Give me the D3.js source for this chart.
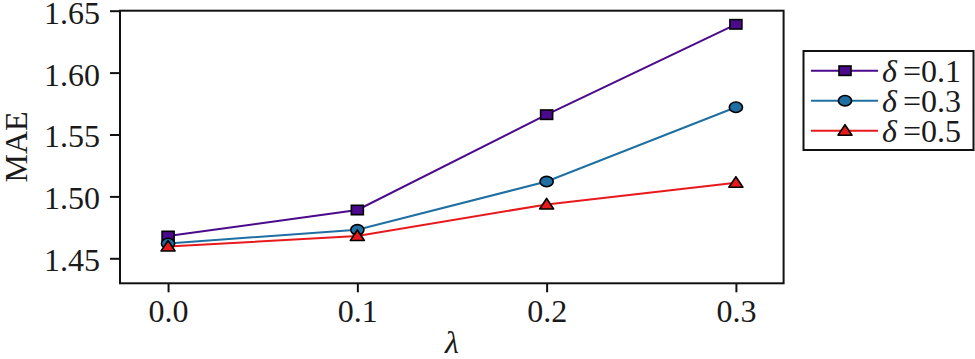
<!DOCTYPE html>
<html>
<head>
<meta charset="utf-8">
<script src="https://cdn.jsdelivr.net/npm/d3@7"></script>
<style>
  html, body { margin: 0; padding: 0; background: #fff; }
  svg { display: block; }
</style>
</head>
<body>
<svg id="chart" width="975" height="359"></svg>
<script>
const lambdas = [0.0, 0.1, 0.2, 0.3];
const xTicks = [0.0, 0.1, 0.2, 0.3];
const yTicks = [1.45, 1.50, 1.55, 1.60, 1.65];
const seriesNames = ["δ =0.1", "δ =0.3", "δ =0.5"];
const delta01 = [1.468, 1.489, 1.566, 1.639];
const delta03 = [1.462, 1.473, 1.512, 1.572];
const delta05 = [1.4595, 1.468, 1.4935, 1.511];
const seriesColors = ["#4b0a8c", "#1f6fa3", "#e8191c"];
const seriesShapes = ["square", "circle", "triangle"];
const seriesValues = [delta01, delta03, delta05];

const svg = d3.select("#chart");
const L = 120, R = 783.6, T = 10.7, B = 283.3;

const x = d3.scaleLinear().domain([-0.0254, 0.3252]).range([L, R]);
const y = d3.scaleLinear().domain([1.4298, 1.65]).range([B, T]);

function styleText(sel, italic) {
  return sel.attr("style", "font-family:'Liberation Serif','Times New Roman',serif;font-size:32px;fill:#1a1a1a;" +
    (italic ? "font-style:italic;" : ""));
}

// Axes
const xAxis = svg.append("g").attr("transform", `translate(0,${B})`)
  .call(d3.axisBottom(x).tickValues(xTicks).tickFormat(d3.format(".1f")).tickSize(9).tickSizeOuter(0));
const yAxis = svg.append("g").attr("transform", `translate(${L},0)`)
  .call(d3.axisLeft(y).tickValues(yTicks).tickFormat(d3.format(".2f")).tickSize(10).tickSizeOuter(0));

[xAxis, yAxis].forEach(g => {
  g.attr("font-family", null).attr("font-size", null);
  g.select(".domain").remove();
  g.selectAll(".tick line").attr("stroke", "#111").attr("stroke-width", 2);
  styleText(g.selectAll(".tick text"), false);
});
xAxis.selectAll(".tick text").attr("dy", 0).attr("y", 39);
yAxis.selectAll(".tick text").attr("x", -20).attr("dy", "0.39em");

// Frame
svg.append("rect").attr("x", L).attr("y", T).attr("width", R - L).attr("height", B - T)
  .attr("fill", "none").attr("stroke", "#111").attr("stroke-width", 2);

// Axis labels
styleText(svg.append("text").attr("transform", `translate(27,${(T + B) / 2}) rotate(-90)`)
  .attr("text-anchor", "middle"), false).text("MAE");
styleText(svg.append("text").attr("x", (x(0) + x(0.3)) / 2).attr("y", 353)
  .attr("text-anchor", "middle"), true).text("λ");

function drawMarker(g, shape, cx, cy, color) {
  if (shape === "square") {
    g.append("rect").attr("x", cx - 6).attr("y", cy - 4.7).attr("width", 12).attr("height", 9.4)
      .attr("fill", color).attr("stroke", "#000").attr("stroke-width", 1.6);
  } else if (shape === "circle") {
    g.append("ellipse").attr("cx", cx).attr("cy", cy).attr("rx", 6.6).attr("ry", 5.2)
      .attr("fill", color).attr("stroke", "#000").attr("stroke-width", 1.6);
  } else {
    g.append("path").attr("d", `M${cx - 7},${cy + 4.5}L${cx + 7},${cy + 4.5}L${cx},${cy - 6}Z`)
      .attr("fill", color).attr("stroke", "#000").attr("stroke-width", 1.6).attr("stroke-linejoin", "round");
  }
}

const line = d3.line().x((d, i) => x(lambdas[i])).y(d => y(d));
const plot = svg.append("g");
seriesValues.forEach((vals, s) => {
  plot.append("path").datum(vals).attr("d", line).attr("fill", "none")
    .attr("stroke", seriesColors[s]).attr("stroke-width", 2);
});
seriesValues.forEach((vals, s) => {
  vals.forEach((v, i) => drawMarker(plot, seriesShapes[s], x(lambdas[i]), y(v), seriesColors[s]));
});

// Legend
const lg = svg.append("g");
lg.append("rect").attr("x", 803.5).attr("y", 51).attr("width", 170).attr("height", 99)
  .attr("fill", "#fff").attr("stroke", "#111").attr("stroke-width", 2);
seriesNames.forEach((name, s) => {
  const cy = 70.7 + s * 30;
  const parts = name.split(" ");
  lg.append("line").attr("x1", 811).attr("x2", 878).attr("y1", cy).attr("y2", cy)
    .attr("stroke", seriesColors[s]).attr("stroke-width", 2);
  drawMarker(lg, seriesShapes[s], 845, cy, seriesColors[s]);
  styleText(lg.append("text").attr("x", 882).attr("y", cy + 11), true).text(parts[0]);
  styleText(lg.append("text").attr("x", 903).attr("y", cy + 11), false).text(parts[1]);
});
</script>
</body>
</html>
